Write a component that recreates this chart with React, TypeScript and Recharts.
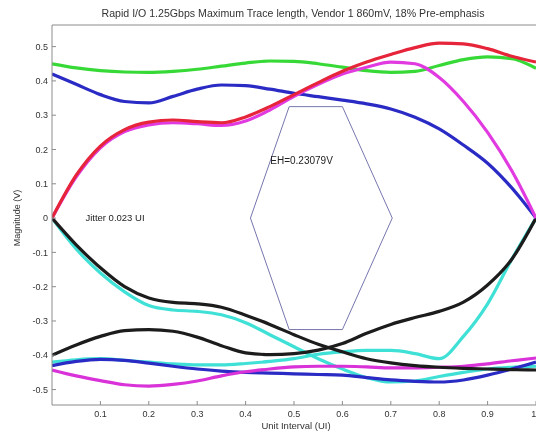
import React, { useLayoutEffect } from 'react';
import { LineChart, Line, XAxis, YAxis, ReferenceDot } from 'recharts';

// Unit interval sample points
const XS = [0, 0.05, 0.1, 0.15, 0.2, 0.25, 0.3, 0.35, 0.4, 0.45, 0.5, 0.55, 0.6, 0.65, 0.7, 0.75, 0.8, 0.85, 0.9, 0.95, 1.0];

// Trace magnitudes (V)
const GREEN = [0.45, 0.438, 0.43, 0.426, 0.425, 0.428, 0.434, 0.443, 0.452, 0.458, 0.457, 0.45, 0.44, 0.43, 0.425, 0.428, 0.445, 0.462, 0.47, 0.465, 0.437];
const BLUE_UP = [0.42, 0.39, 0.36, 0.34, 0.336, 0.355, 0.376, 0.388, 0.386, 0.376, 0.364, 0.354, 0.344, 0.333, 0.318, 0.294, 0.26, 0.213, 0.16, 0.088, 0];
const RED = [0, 0.125, 0.21, 0.258, 0.28, 0.286, 0.281, 0.278, 0.295, 0.325, 0.36, 0.395, 0.428, 0.455, 0.477, 0.497, 0.51, 0.508, 0.494, 0.472, 0.455];
const MAGENTA_UP = [0, 0.12, 0.205, 0.252, 0.272, 0.278, 0.275, 0.27, 0.283, 0.315, 0.355, 0.39, 0.42, 0.44, 0.455, 0.45, 0.41, 0.34, 0.25, 0.138, 0];
const BLACK_A = [0, -0.078, -0.145, -0.2, -0.233, -0.246, -0.25, -0.26, -0.283, -0.31, -0.34, -0.368, -0.39, -0.41, -0.422, -0.43, -0.435, -0.438, -0.44, -0.442, -0.443];
const BLACK_B = [-0.4, -0.37, -0.345, -0.328, -0.325, -0.33, -0.347, -0.372, -0.393, -0.398, -0.395, -0.385, -0.366, -0.336, -0.31, -0.29, -0.272, -0.245, -0.195, -0.12, 0];
const CYAN_A = [0, -0.09, -0.16, -0.215, -0.255, -0.268, -0.272, -0.282, -0.305, -0.34, -0.375, -0.41, -0.44, -0.465, -0.478, -0.475, -0.462, -0.45, -0.44, -0.435, -0.432];
const CYAN_B = [-0.42, -0.413, -0.41, -0.415, -0.42, -0.425, -0.428, -0.428, -0.424, -0.418, -0.41, -0.397, -0.39, -0.386, -0.386, -0.395, -0.41, -0.345, -0.25, -0.12, 0];
const BLUE_LOW = [-0.43, -0.418, -0.412, -0.415, -0.423, -0.432, -0.44, -0.446, -0.45, -0.452, -0.454, -0.456, -0.458, -0.465, -0.472, -0.476, -0.478, -0.472, -0.458, -0.44, -0.42];
const MAGENTA_LOW = [-0.443, -0.46, -0.474, -0.486, -0.49, -0.485, -0.475, -0.46, -0.448, -0.44, -0.434, -0.432, -0.432, -0.434, -0.437, -0.437, -0.435, -0.432, -0.425, -0.416, -0.408];

// Eye mask (hexagon)
const MASK_X = [0.41, 0.49, 0.6, 0.703, 0.6, 0.49, 0.41];
const MASK_Y = [0, 0.325, 0.325, 0, -0.325, -0.325, 0];

const X_TICKS = [0.1, 0.2, 0.3, 0.4, 0.5, 0.6, 0.7, 0.8, 0.9, 1];
const Y_TICKS = [-0.5, -0.4, -0.3, -0.2, -0.1, 0, 0.1, 0.2, 0.3, 0.4, 0.5];

const TITLE = 'Rapid I/O 1.25Gbps Maximum Trace length, Vendor 1 860mV, 18% Pre-emphasis';
const X_LABEL = 'Unit Interval (UI)';
const Y_LABEL = 'Magnitude (V)';
const JITTER_TEXT = 'Jitter 0.023 UI';
const EH_TEXT = 'EH=0.23079V';

const toSeries = (ys: number[]) => XS.map((x, i) => ({ x, y: ys[i] }));
const MASK = MASK_X.map((x, i) => ({ x, y: MASK_Y[i] }));

const FONT = '"Liberation Sans", Arial, sans-serif';

const traces: { data: number[]; color: string }[] = [
  { data: CYAN_A, color: '#3fe0d6' },
  { data: CYAN_B, color: '#3fe0d6' },
  { data: BLUE_LOW, color: '#2a2ac4' },
  { data: MAGENTA_LOW, color: '#d832d8' },
  { data: BLACK_A, color: '#1c1c1c' },
  { data: BLACK_B, color: '#1c1c1c' },
  { data: GREEN, color: '#36d936' },
  { data: BLUE_UP, color: '#2a2ac4' },
  { data: MAGENTA_UP, color: '#e03ae0' },
  { data: RED, color: '#e6243a' },
];

const fmtY = (v: number) => (Math.abs(v) < 1e-9 ? '0' : String(Number(v.toFixed(1))));

export default function App() {
  useLayoutEffect(() => {
    document.documentElement.style.overflow = 'hidden';
    document.body.style.overflow = 'hidden';
  }, []);
  return (
    <div
      style={{
        position: 'fixed',
        left: 8,
        top: 8,
        width: 528,
        height: 424,
        overflow: 'hidden',
        fontFamily: FONT,
      }}
    >
      <LineChart
        width={528}
        height={424}
        margin={{ top: 16, right: 0, bottom: 0, left: 14 }}
      >
        <XAxis
          xAxisId={0}
          type="number"
          dataKey="x"
          domain={[0, 1]}
          ticks={X_TICKS}
          allowDataOverflow
          height={27}
          tickSize={-4}
          tickMargin={10}
          stroke="#8c8c8c"
          tick={{ fontSize: 9, fill: '#333', fontFamily: FONT }}
          tickFormatter={(v: number) => String(v)}
        />
        <XAxis
          xAxisId="top"
          orientation="top"
          type="number"
          dataKey="x"
          domain={[0, 1]}
          ticks={X_TICKS}
          allowDataOverflow
          height={1}
          tickSize={-4}
          tick={false}
          stroke="#8c8c8c"
        />
        <YAxis
          type="number"
          domain={[-0.545, 0.563]}
          ticks={Y_TICKS}
          allowDataOverflow
          width={30}
          tickSize={-4}
          tickMargin={8}
          stroke="#8c8c8c"
          tick={{ fontSize: 9, fill: '#333', fontFamily: FONT }}
          tickFormatter={fmtY}
        />
        <YAxis
          yAxisId="right"
          orientation="right"
          type="number"
          domain={[-0.545, 0.563]}
          ticks={Y_TICKS}
          allowDataOverflow
          width={0}
          tickSize={-4}
          tick={false}
          stroke="#8c8c8c"
        />
        <Line
          data={MASK}
          dataKey="y"
          type="linear"
          stroke="#7676ae"
          strokeWidth={1}
          dot={false}
          activeDot={false}
          isAnimationActive={false}
        />
        {traces.map((t, i) => (
          <Line
            key={i}
            data={toSeries(t.data)}
            dataKey="y"
            type="monotone"
            stroke={t.color}
            strokeWidth={3.2}
            dot={false}
            activeDot={false}
            isAnimationActive={false}
          />
        ))}
        <ReferenceDot
          x={0.069}
          y={0}
          r={0}
          fill="none"
          stroke="none"
          label={{ value: JITTER_TEXT, position: 'right', offset: 0, fontSize: 9.5, fill: '#222', fontFamily: FONT }}
        />
        <ReferenceDot
          x={0.451}
          y={0.169}
          r={0}
          fill="none"
          stroke="none"
          label={{ value: EH_TEXT, position: 'right', offset: 0, fontSize: 10, fill: '#222', fontFamily: FONT }}
        />
      </LineChart>
      <div
        style={{
          position: 'absolute',
          left: 285,
          top: 0,
          transform: 'translateX(-50%)',
          whiteSpace: 'nowrap',
          fontSize: 10.6,
          lineHeight: '10px',
          color: '#333',
        }}
      >
        {TITLE}
      </div>
      <div
        style={{
          position: 'absolute',
          left: 288,
          top: 418,
          transform: 'translate(-50%, -50%)',
          whiteSpace: 'nowrap',
          fontSize: 9.5,
          lineHeight: '10px',
          color: '#333',
        }}
      >
        {X_LABEL}
      </div>
      <div
        style={{
          position: 'absolute',
          left: 9,
          top: 210,
          transform: 'translate(-50%, -50%) rotate(-90deg)',
          whiteSpace: 'nowrap',
          fontSize: 9,
          lineHeight: '10px',
          color: '#333',
        }}
      >
        {Y_LABEL}
      </div>
    </div>
  );
}
